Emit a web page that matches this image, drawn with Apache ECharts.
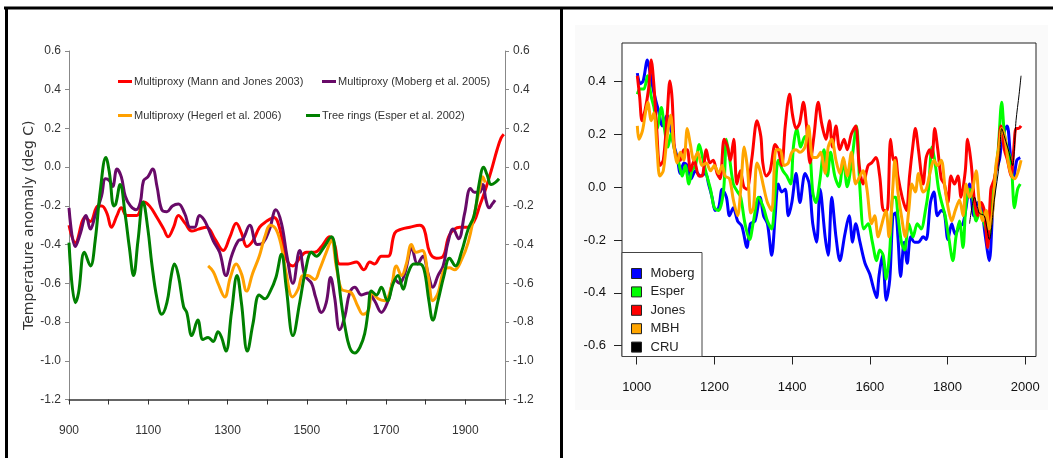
<!DOCTYPE html>
<html>
<head>
<meta charset="utf-8">
<script src="https://cdn.jsdelivr.net/npm/echarts@6/dist/echarts.min.js"></script>
<style>
  html, body { margin: 0; padding: 0; background: #fff; }
  #main { width: 1053px; height: 458px; }
</style>
</head>
<body>
<div id="main"></div>
<script>
  // left panel: four reconstructions, 900-2000
  var mannYears = [900, 916, 941, 954, 973, 983, 996, 1007, 1021, 1032, 1046, 1071, 1088, 1103, 1122, 1139, 1150, 1164, 1176, 1193, 1210, 1227, 1247, 1268, 1289, 1306, 1322, 1335, 1349, 1364, 1381, 1398, 1417, 1432, 1444, 1455, 1465, 1482, 1499, 1520, 1537, 1558, 1570, 1583, 1604, 1625, 1644, 1659, 1671, 1688, 1705, 1722, 1739, 1760, 1785, 1796, 1810, 1827, 1844, 1860, 1886, 1907, 1922, 1936, 1950, 1965, 1980, 1990, 1997]
  var mannTemps = [-0.30, -0.39, -0.26, -0.28, -0.20, -0.20, -0.24, -0.31, -0.25, -0.21, -0.25, -0.25, -0.18, -0.20, -0.26, -0.32, -0.36, -0.31, -0.25, -0.29, -0.33, -0.32, -0.31, -0.37, -0.43, -0.36, -0.29, -0.34, -0.41, -0.38, -0.31, -0.28, -0.26, -0.32, -0.45, -0.50, -0.51, -0.47, -0.44, -0.44, -0.41, -0.36, -0.40, -0.50, -0.50, -0.49, -0.53, -0.49, -0.50, -0.46, -0.46, -0.34, -0.32, -0.31, -0.30, -0.32, -0.44, -0.47, -0.46, -0.35, -0.31, -0.31, -0.28, -0.20, -0.12, -0.02, 0.09, 0.15, 0.17]

  var mobergYears = [900, 916, 929, 943, 954, 966, 982, 992, 1002, 1010, 1021, 1032, 1042, 1055, 1069, 1080, 1088, 1099, 1111, 1122, 1134, 1147, 1161, 1176, 1192, 1206, 1217, 1229, 1240, 1250, 1264, 1280, 1296, 1310, 1327, 1339, 1356, 1375, 1390, 1406, 1422, 1436, 1450, 1465, 1482, 1495, 1512, 1522, 1537, 1549, 1560, 1570, 1583, 1596, 1608, 1621, 1638, 1655, 1671, 1688, 1705, 1722, 1734, 1747, 1765, 1779, 1793, 1806, 1818, 1831, 1844, 1856, 1869, 1883, 1898, 1913, 1923, 1936, 1944, 1952, 1960, 1968, 1975]
  var mobergTemps = [-0.21, -0.41, -0.34, -0.25, -0.32, -0.25, -0.15, -0.06, -0.07, -0.10, -0.01, -0.05, -0.15, -0.20, -0.22, -0.18, -0.07, -0.05, -0.01, -0.10, -0.22, -0.23, -0.20, -0.19, -0.24, -0.31, -0.31, -0.25, -0.27, -0.31, -0.38, -0.44, -0.56, -0.46, -0.38, -0.37, -0.30, -0.40, -0.39, -0.32, -0.22, -0.29, -0.46, -0.60, -0.43, -0.56, -0.60, -0.67, -0.75, -0.70, -0.57, -0.67, -0.84, -0.77, -0.65, -0.62, -0.66, -0.65, -0.69, -0.75, -0.69, -0.58, -0.60, -0.55, -0.42, -0.50, -0.46, -0.55, -0.62, -0.56, -0.51, -0.39, -0.32, -0.37, -0.24, -0.11, -0.13, -0.13, -0.09, -0.17, -0.21, -0.19, -0.17]

  var hegerlYears = [1251, 1264, 1276, 1293, 1307, 1322, 1335, 1348, 1363, 1380, 1394, 1408, 1422, 1436, 1448, 1464, 1478, 1490, 1503, 1520, 1532, 1549, 1562, 1575, 1587, 1600, 1613, 1629, 1642, 1655, 1665, 1680, 1697, 1713, 1726, 1739, 1751, 1764, 1776, 1791, 1806, 1818, 1831, 1846, 1860, 1873, 1890, 1907, 1923, 1936, 1944, 1950]
  var hegerlTemps = [-0.51, -0.54, -0.60, -0.67, -0.57, -0.50, -0.55, -0.64, -0.55, -0.46, -0.36, -0.30, -0.32, -0.41, -0.55, -0.67, -0.63, -0.56, -0.56, -0.58, -0.53, -0.44, -0.38, -0.52, -0.63, -0.64, -0.65, -0.72, -0.76, -0.74, -0.65, -0.68, -0.69, -0.62, -0.51, -0.56, -0.50, -0.40, -0.44, -0.43, -0.56, -0.69, -0.65, -0.53, -0.52, -0.53, -0.48, -0.39, -0.24, -0.11, -0.05, -0.08]

  var esperYears = [900, 916, 924, 939, 954, 966, 979, 993, 1002, 1013, 1018, 1029, 1042, 1052, 1063, 1074, 1087, 1099, 1109, 1122, 1134, 1147, 1158, 1166, 1176, 1189, 1197, 1210, 1225, 1238, 1251, 1264, 1276, 1285, 1296, 1310, 1324, 1335, 1350, 1364, 1380, 1394, 1408, 1422, 1436, 1448, 1465, 1482, 1497, 1512, 1524, 1541, 1562, 1575, 1587, 1596, 1608, 1621, 1634, 1646, 1655, 1663, 1676, 1688, 1703, 1718, 1730, 1743, 1755, 1770, 1785, 1796, 1808, 1818, 1831, 1846, 1860, 1875, 1890, 1907, 1922, 1936, 1946, 1955, 1965, 1975, 1985]
  var esperTemps = [-0.39, -0.70, -0.65, -0.44, -0.51, -0.38, -0.12, 0.05, -0.03, -0.20, -0.19, -0.09, -0.25, -0.41, -0.56, -0.38, -0.18, -0.32, -0.50, -0.68, -0.76, -0.70, -0.56, -0.50, -0.56, -0.72, -0.75, -0.87, -0.79, -0.89, -0.88, -0.90, -0.85, -0.88, -0.95, -0.75, -0.56, -0.70, -0.95, -0.81, -0.66, -0.68, -0.64, -0.57, -0.45, -0.62, -0.87, -0.70, -0.53, -0.44, -0.46, -0.42, -0.36, -0.50, -0.70, -0.82, -0.93, -0.96, -0.93, -0.86, -0.74, -0.64, -0.66, -0.62, -0.69, -0.60, -0.56, -0.63, -0.55, -0.50, -0.50, -0.53, -0.69, -0.79, -0.69, -0.56, -0.47, -0.51, -0.44, -0.32, -0.25, -0.07, 0.00, -0.04, -0.09, -0.08, -0.06]

  // right panel: five series, 1000-1990
  var mobYears = [1000, 1007, 1015, 1026, 1032, 1038, 1047, 1056, 1064, 1077, 1086, 1094, 1103, 1111, 1120, 1129, 1139, 1150, 1163, 1176, 1184, 1193, 1201, 1210, 1219, 1230, 1238, 1248, 1259, 1270, 1283, 1292, 1304, 1317, 1326, 1336, 1347, 1356, 1364, 1373, 1382, 1390, 1399, 1410, 1420, 1433, 1444, 1453, 1463, 1472, 1485, 1493, 1502, 1513, 1523, 1536, 1547, 1556, 1564, 1575, 1588, 1600, 1611, 1618, 1624, 1633, 1643, 1652, 1660, 1667, 1673, 1680, 1689, 1697, 1706, 1716, 1726, 1738, 1746, 1757, 1766, 1775, 1785, 1793, 1802, 1812, 1821, 1832, 1841, 1849, 1858, 1869, 1879, 1889, 1898, 1909, 1918, 1926, 1935, 1943, 1955, 1963, 1972, 1980, 1989]
  var mobVals = [0.43, 0.39, 0.40, 0.48, 0.44, 0.39, 0.33, 0.28, 0.23, 0.27, 0.22, 0.16, 0.11, 0.05, 0.09, 0.08, 0.03, 0.06, 0.04, 0.05, 0.01, -0.04, -0.09, -0.08, -0.01, -0.04, -0.11, -0.08, -0.13, -0.15, -0.23, -0.14, -0.13, -0.04, -0.11, -0.14, -0.26, -0.11, 0.01, -0.02, -0.01, -0.11, -0.06, 0.05, -0.06, 0.05, 0.01, -0.14, -0.21, -0.01, -0.19, -0.26, -0.04, -0.19, -0.28, -0.18, -0.11, -0.21, -0.14, -0.21, -0.29, -0.33, -0.39, -0.42, -0.34, -0.26, -0.43, -0.35, -0.11, -0.10, -0.19, -0.34, -0.21, -0.29, -0.19, -0.21, -0.21, -0.19, -0.20, -0.06, -0.02, -0.11, -0.09, -0.10, -0.20, -0.14, -0.18, -0.15, -0.14, -0.08, 0.01, -0.11, -0.06, -0.08, -0.18, -0.28, -0.08, 0.06, 0.10, 0.19, 0.23, 0.13, 0.03, 0.10, 0.11]

  var espYears = [1000, 1007, 1017, 1026, 1036, 1043, 1051, 1062, 1070, 1079, 1087, 1096, 1107, 1116, 1124, 1133, 1141, 1150, 1160, 1170, 1178, 1189, 1199, 1210, 1223, 1230, 1238, 1248, 1259, 1267, 1278, 1290, 1300, 1313, 1326, 1336, 1347, 1356, 1364, 1376, 1386, 1396, 1403, 1412, 1422, 1433, 1444, 1453, 1461, 1472, 1482, 1491, 1499, 1510, 1521, 1532, 1542, 1553, 1566, 1575, 1585, 1596, 1607, 1618, 1626, 1635, 1643, 1652, 1660, 1667, 1673, 1682, 1690, 1701, 1712, 1723, 1733, 1744, 1752, 1761, 1769, 1778, 1786, 1795, 1804, 1815, 1823, 1832, 1841, 1849, 1858, 1866, 1875, 1886, 1896, 1907, 1915, 1924, 1932, 1941, 1948, 1956, 1965, 1974, 1982, 1989]
  var espVals = [0.35, 0.37, 0.37, 0.42, 0.34, 0.30, 0.22, 0.30, 0.22, 0.15, 0.20, 0.14, 0.09, 0.04, 0.08, 0.01, 0.06, 0.08, 0.16, 0.10, 0.05, -0.01, -0.08, -0.09, -0.01, 0.18, 0.11, 0.01, -0.02, -0.04, -0.14, -0.20, -0.13, -0.04, -0.08, -0.13, -0.16, -0.02, 0.10, 0.06, 0.04, 0.01, 0.15, 0.22, 0.15, 0.19, 0.16, -0.02, -0.06, 0.03, 0.14, 0.04, 0.13, 0.04, 0.00, 0.10, 0.00, 0.09, 0.23, -0.01, -0.16, -0.14, -0.21, -0.28, -0.24, -0.26, -0.35, -0.24, -0.04, -0.04, -0.11, -0.21, -0.24, -0.14, -0.19, -0.14, -0.16, -0.09, -0.01, 0.15, 0.09, -0.01, -0.06, -0.11, -0.19, -0.28, -0.19, -0.13, -0.23, -0.06, -0.01, -0.04, -0.13, -0.09, -0.14, -0.19, -0.08, 0.04, 0.14, 0.32, 0.20, 0.14, 0.10, -0.08, -0.01, 0.01]

  var jonYears = [1000, 1006, 1012, 1020, 1029, 1036, 1043, 1050, 1058, 1067, 1077, 1084, 1090, 1096, 1103, 1111, 1120, 1129, 1137, 1147, 1159, 1167, 1178, 1187, 1196, 1206, 1214, 1224, 1233, 1240, 1249, 1257, 1266, 1275, 1283, 1296, 1309, 1319, 1324, 1333, 1343, 1356, 1364, 1373, 1382, 1393, 1401, 1410, 1419, 1429, 1437, 1446, 1456, 1467, 1476, 1487, 1496, 1504, 1513, 1523, 1534, 1542, 1553, 1564, 1573, 1583, 1596, 1605, 1616, 1626, 1636, 1645, 1654, 1662, 1667, 1673, 1684, 1695, 1703, 1712, 1718, 1726, 1738, 1746, 1755, 1761, 1768, 1776, 1785, 1793, 1802, 1810, 1819, 1828, 1836, 1847, 1853, 1862, 1871, 1879, 1888, 1896, 1905, 1913, 1922, 1931, 1939, 1948, 1956, 1965, 1972, 1978, 1984, 1991]
  var jonVals = [0.42, 0.34, 0.25, 0.29, 0.37, 0.48, 0.38, 0.22, 0.08, 0.10, 0.27, 0.40, 0.33, 0.14, 0.11, 0.10, 0.14, 0.14, 0.06, 0.10, 0.04, 0.04, 0.14, 0.09, 0.10, 0.05, 0.03, 0.18, 0.15, 0.10, 0.18, 0.01, 0.06, 0.00, -0.01, 0.11, 0.25, 0.19, 0.09, 0.04, 0.06, 0.16, 0.14, 0.08, 0.23, 0.35, 0.27, 0.22, 0.24, 0.32, 0.23, 0.09, 0.19, 0.32, 0.24, 0.18, 0.25, 0.15, 0.23, 0.14, 0.18, 0.14, 0.20, 0.23, 0.08, 0.01, 0.08, 0.09, 0.11, 0.04, -0.09, -0.09, 0.18, 0.10, 0.11, 0.04, -0.04, -0.09, 0.04, 0.16, 0.22, 0.14, 0.01, 0.11, 0.14, 0.11, 0.22, 0.14, 0.03, 0.01, -0.06, 0.04, 0.01, 0.04, -0.04, 0.06, 0.18, 0.09, -0.06, -0.11, -0.06, -0.09, -0.23, -0.01, 0.03, 0.11, 0.23, 0.14, 0.10, 0.04, 0.14, 0.22, 0.22, 0.23]

  var mbhYears = [1000, 1004, 1013, 1021, 1027, 1036, 1043, 1051, 1058, 1067, 1077, 1086, 1094, 1103, 1111, 1120, 1129, 1137, 1146, 1156, 1167, 1178, 1189, 1199, 1210, 1219, 1227, 1238, 1248, 1259, 1267, 1276, 1285, 1293, 1300, 1309, 1317, 1326, 1336, 1347, 1358, 1369, 1379, 1390, 1399, 1410, 1420, 1433, 1442, 1453, 1463, 1473, 1485, 1493, 1502, 1513, 1523, 1532, 1542, 1553, 1564, 1575, 1583, 1593, 1605, 1613, 1622, 1630, 1642, 1650, 1660, 1665, 1673, 1682, 1692, 1701, 1709, 1718, 1726, 1738, 1746, 1757, 1766, 1775, 1785, 1795, 1804, 1812, 1821, 1832, 1841, 1849, 1858, 1866, 1875, 1883, 1892, 1901, 1909, 1918, 1926, 1935, 1941, 1949, 1958, 1967, 1975, 1984, 1991]
  var mbhVals = [0.23, 0.18, 0.21, 0.28, 0.32, 0.25, 0.28, 0.14, 0.04, 0.06, 0.19, 0.27, 0.16, 0.09, 0.13, 0.10, 0.22, 0.16, 0.10, 0.13, 0.08, 0.09, 0.06, 0.08, 0.05, 0.08, 0.04, 0.03, -0.05, -0.11, -0.01, 0.15, 0.06, -0.10, -0.08, 0.09, 0.06, 0.00, -0.06, -0.09, 0.14, 0.14, 0.08, 0.09, 0.13, 0.14, 0.13, 0.15, 0.23, 0.11, 0.11, 0.13, 0.05, 0.15, 0.18, 0.10, 0.05, 0.11, 0.04, 0.13, 0.01, 0.04, 0.06, -0.01, -0.14, -0.11, -0.19, -0.15, -0.09, -0.19, 0.00, 0.10, -0.02, -0.11, -0.19, -0.09, 0.01, -0.02, 0.05, -0.02, -0.01, 0.06, 0.10, 0.08, 0.10, -0.01, -0.09, -0.13, -0.09, -0.05, -0.11, 0.01, -0.04, -0.01, 0.06, -0.06, -0.13, -0.09, -0.16, -0.09, 0.08, 0.16, 0.22, 0.19, 0.09, 0.04, 0.03, 0.06, 0.10]

  var cruYears = [1858, 1871, 1883, 1896, 1909, 1922, 1935, 1941, 1952, 1960, 1969, 1978, 1986, 1991]
  var cruVals = [-0.14, -0.04, -0.10, -0.11, -0.20, -0.05, 0.09, 0.22, 0.17, 0.13, 0.08, 0.25, 0.35, 0.42]

  function pairs(xs, ys) {
    var out = []
    for (var i = 0; i < xs.length; i++) out.push([xs[i], ys[i]])
    return out
  }

  function oneDecimal(v) {
    if (Math.abs(v) < 1e-9) v = 0
    return v.toFixed(1)
  }

  var plain = "'Liberation Sans', Arial, sans-serif"

  function leftLine(name, color, xs, ys) {
    return {
      name: name, type: 'line', xAxisIndex: 0, yAxisIndex: 0,
      data: pairs(xs, ys), smooth: 0.4, showSymbol: false,
      lineStyle: {color: color, width: 3}, itemStyle: {color: color}
    }
  }

  function rightLine(name, color, width, xs, ys) {
    return {
      name: name, type: 'line', xAxisIndex: 1, yAxisIndex: 2,
      data: pairs(xs, ys), smooth: 0.3, showSymbol: false,
      lineStyle: {color: color, width: width}, itemStyle: {color: color}
    }
  }

  function leftLegend(name, left, top) {
    return {
      data: [name], left: left, top: top, icon: 'rect',
      itemWidth: 14, itemHeight: 3, padding: 0,
      textStyle: {fontFamily: plain, fontSize: 11, color: '#333', padding: [0, 0, 0, -3]}
    }
  }

  var chart = echarts.init(document.getElementById('main'))
  var option = {
    animation: false,
    backgroundColor: '#fff',
    grid: [
      {left: 69, top: 51, width: 436, height: 348.5},
      {left: 622, top: 43, width: 414, height: 313.5, show: true, borderColor: '#222', borderWidth: 1, backgroundColor: '#fff'},
      {left: 636.7, top: 43, width: 388.6, height: 313.5},
      {left: 622, top: 81.7, width: 414, height: 264}
    ],
    legend: [
      leftLegend('Multiproxy (Mann and Jones 2003)', 118, 76),
      leftLegend('Multiproxy (Moberg et al. 2005)', 322, 76),
      leftLegend('Multiproxy (Hegerl et al. 2006)', 118, 110),
      leftLegend('Tree rings (Esper et al. 2002)', 306, 110),
      {
        data: ['Moberg', 'Esper', 'Jones', 'MBH', 'CRU'],
        orient: 'vertical', left: 631, top: 267, padding: 0,
        icon: 'rect', itemWidth: 10, itemHeight: 10, itemGap: 5.4,
        itemStyle: {borderColor: '#222', borderWidth: 1},
        textStyle: {fontFamily: plain, fontSize: 13, color: '#222', padding: [0, 0, 0, 4]},
        z: 60
      }
    ],
    xAxis: [
      {
        gridIndex: 0, type: 'value', min: 900, max: 2000, interval: 100,
        axisLine: {onZero: false, lineStyle: {color: '#333', width: 1.5}},
        axisTick: {inside: false, length: 5, lineStyle: {color: '#333'}},
        axisLabel: {
          margin: 25, color: '#333', fontFamily: plain, fontSize: 12,
          showMinLabel: true,
          formatter: function (v) { return v % 200 === 100 ? String(v) : '' }
        },
        splitLine: {show: false}
      },
      {gridIndex: 1, type: 'value', min: 960.4, max: 2029.6, show: false},
      {
        gridIndex: 2, type: 'value', min: 1000, max: 2000, interval: 200,
        axisLine: {show: false, onZero: false},
        axisTick: {inside: false, length: 8, lineStyle: {color: '#222'}},
        axisLabel: {
          margin: 24, color: '#111', fontFamily: plain, fontSize: 13, showMinLabel: true, showMaxLabel: true,
          formatter: function (v) { return String(v) }
        },
        splitLine: {show: false}
      },
      {gridIndex: 3, type: 'value', min: 0, max: 1, show: false}
    ],
    yAxis: [
      {
        gridIndex: 0, type: 'value', min: -1.2, max: 0.6, interval: 0.2,
        name: 'Temperature anomaly (deg C)', nameLocation: 'middle', nameGap: 33,
        nameTextStyle: {fontFamily: "'DejaVu Sans', sans-serif", fontSize: 14, color: '#333'},
        axisLine: {show: true, onZero: false, lineStyle: {color: '#888'}},
        axisTick: {show: true, inside: false, length: 4, lineStyle: {color: '#888'}},
        axisLabel: {margin: 8, color: '#333', fontFamily: plain, fontSize: 12, formatter: oneDecimal, showMinLabel: true, showMaxLabel: true},
        splitLine: {show: false}
      },
      {
        gridIndex: 0, type: 'value', position: 'right', min: -1.2, max: 0.6, interval: 0.2,
        axisLine: {show: true, onZero: false, lineStyle: {color: '#888'}},
        axisTick: {show: true, inside: false, length: 4, lineStyle: {color: '#888'}},
        axisLabel: {margin: 8, color: '#333', fontFamily: plain, fontSize: 12, formatter: oneDecimal, showMinLabel: true, showMaxLabel: true},
        splitLine: {show: false}
      },
      {gridIndex: 1, type: 'value', min: -0.643, max: 0.544, show: false},
      {gridIndex: 2, type: 'value', min: 0, max: 1, show: false},
      {
        gridIndex: 3, type: 'value', min: -0.6, max: 0.4, interval: 0.2,
        axisLine: {show: false, onZero: false},
        axisTick: {show: true, inside: false, length: 8, lineStyle: {color: '#222'}},
        axisLabel: {margin: 16, color: '#111', fontFamily: plain, fontSize: 13, formatter: oneDecimal, showMinLabel: true, showMaxLabel: true},
        splitLine: {show: false}
      }
    ],
    graphic: [
      {type: 'rect', z: -10, silent: true, shape: {x: 575, y: 25, width: 473, height: 385}, style: {fill: '#fafafa'}},
      {type: 'line', z: 100, silent: true, shape: {x1: 4, y1: 8, x2: 1053, y2: 8}, style: {stroke: '#000', lineWidth: 3}},
      {type: 'line', z: 100, silent: true, shape: {x1: 6.5, y1: 8, x2: 6.5, y2: 458}, style: {stroke: '#000', lineWidth: 3}},
      {type: 'line', z: 100, silent: true, shape: {x1: 561.5, y1: 8, x2: 561.5, y2: 458}, style: {stroke: '#000', lineWidth: 3}},
      {type: 'rect', z: 50, silent: true, shape: {x: 622, y: 252.5, width: 80, height: 104}, style: {fill: '#fff', stroke: '#444', lineWidth: 1}}
    ],
    series: [
      leftLine('Multiproxy (Mann and Jones 2003)', '#ff0000', mannYears, mannTemps),
      leftLine('Multiproxy (Moberg et al. 2005)', '#680a68', mobergYears, mobergTemps),
      leftLine('Multiproxy (Hegerl et al. 2006)', '#ffa000', hegerlYears, hegerlTemps),
      leftLine('Tree rings (Esper et al. 2002)', '#008000', esperYears, esperTemps),
      rightLine('Moberg', '#0000ff', 3, mobYears, mobVals),
      rightLine('Esper', '#00ff00', 3, espYears, espVals),
      rightLine('Jones', '#ff0000', 3, jonYears, jonVals),
      rightLine('MBH', '#ffa500', 3, mbhYears, mbhVals),
      rightLine('CRU', '#000000', 1, cruYears, cruVals)
    ]
  }
  chart.setOption(option)
</script>
</body>
</html>
